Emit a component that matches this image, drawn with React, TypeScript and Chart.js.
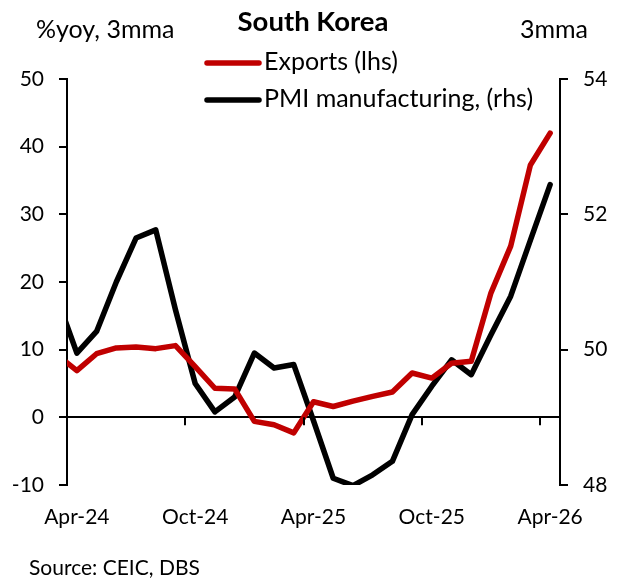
import React, { useEffect, useRef } from 'react';
import { Chart, registerables } from 'chart.js';

Chart.register(...registerables);

const FONT = 'Lato';

const months = [
  'Mar-24', 'Apr-24', 'May-24', 'Jun-24', 'Jul-24', 'Aug-24', 'Sep-24', 'Oct-24', 'Nov-24', 'Dec-24',
  'Jan-25', 'Feb-25', 'Mar-25', 'Apr-25', 'May-25', 'Jun-25', 'Jul-25', 'Aug-25', 'Sep-25', 'Oct-25',
  'Nov-25', 'Dec-25', 'Jan-26', 'Feb-26', 'Mar-26', 'Apr-26',
];
const exportsYoY = [
  9.2, 6.9, 9.4, 10.25, 10.4, 10.15, 10.6, 7.5, 4.3, 4.2,
  -0.6, -1.1, -2.3, 2.3, 1.6, 2.4, 3.1, 3.75, 6.55, 5.8,
  8.0, 8.3, 18.4, 25.3, 37.3, 42.0,
];
const pmiMfg = [
  50.76, 49.95, 50.27, 51.0, 51.65, 51.77, 50.59, 49.5, 49.08, 49.3,
  49.95, 49.73, 49.78, 48.95, 48.1, 47.99, 48.15, 48.35, 49.04, 49.46,
  49.85, 49.63, 50.22, 50.79, 51.62, 52.44,
];
const xTickLabels = ['Apr-24', 'Oct-24', 'Apr-25', 'Oct-25', 'Apr-26'];
const leftAxis = { min: -10, max: 50, step: 10 };
const rightAxis = { min: 48, max: 54, step: 2 };

const TITLE = 'South Korea';
const LEFT_TITLE = '%yoy, 3mma';
const RIGHT_TITLE = '3mma';
const SOURCE = 'Source: CEIC, DBS';
const SERIES_NAMES = ['Exports (lhs)', 'PMI manufacturing, (rhs)'];
const COLORS = ['#C00000', '#000000'];

const TICK_SIZE = 21;
const LABEL_SIZE = 25;

const textPlugin = {
  id: 'textAndMarks',
  afterDraw(chart: any) {
    const { ctx } = chart;
    const x = chart.scales.x;
    const y = chart.scales.y;
    ctx.save();
    // x tick marks on the zero line, at month boundaries
    const y0 = y.getPixelForValue(0);
    ctx.strokeStyle = '#000';
    ctx.lineWidth = 2;
    xTickLabels.forEach((l) => {
      const px = Math.round(x.getPixelForValue(months.indexOf(l) - 0.5));
      ctx.beginPath();
      ctx.moveTo(px, y0);
      ctx.lineTo(px, y0 + 8);
      ctx.stroke();
    });

    ctx.fillStyle = '#000';
    ctx.textBaseline = 'middle';
    ctx.textAlign = 'center';
    ctx.font = `bold 27.5px ${FONT}`;
    ctx.fillText(TITLE, 313, 22);

    ctx.font = `${LABEL_SIZE}px ${FONT}`;
    ctx.textAlign = 'left';
    ctx.fillText(LEFT_TITLE, 36, 30);
    ctx.textAlign = 'right';
    ctx.fillText(RIGHT_TITLE, 588, 30);

    // legend
    ctx.textAlign = 'left';
    const legendY = [63, 100];
    chart.data.datasets.forEach((ds: any, i: number) => {
      ctx.strokeStyle = ds.borderColor;
      ctx.lineWidth = 5.5;
      ctx.lineCap = 'round';
      ctx.beginPath();
      ctx.moveTo(207, legendY[i]);
      ctx.lineTo(259, legendY[i]);
      ctx.stroke();
      ctx.fillText(ds.label, 264, legendY[i] - 1);
    });

    ctx.font = `${TICK_SIZE}px ${FONT}`;
    ctx.textAlign = 'left';
    ctx.fillText(SOURCE, 29, 568);
    ctx.restore();
  },
};

export default function App() {
  const ref = useRef<HTMLCanvasElement>(null);
  useEffect(() => {
    if (!ref.current) return;
    Chart.defaults.font.family = FONT;
    Chart.defaults.color = '#000';
    const chart = new Chart(ref.current, {
      type: 'line',
      data: {
        datasets: [
          {
            label: SERIES_NAMES[0],
            data: months.map((_, i) => ({ x: i, y: exportsYoY[i] })),
            borderColor: COLORS[0],
            borderWidth: 5.5,
            pointRadius: 0,
            borderJoinStyle: 'round',
            borderCapStyle: 'round',
            tension: 0,
            yAxisID: 'y',
          },
          {
            label: SERIES_NAMES[1],
            data: months.map((_, i) => ({ x: i, y: pmiMfg[i] })),
            borderColor: COLORS[1],
            borderWidth: 5.5,
            pointRadius: 0,
            borderJoinStyle: 'round',
            borderCapStyle: 'round',
            tension: 0,
            yAxisID: 'y1',
          },
        ],
      },
      options: {
        responsive: false,
        animation: false,
        layout: { padding: { top: 79, left: 0, right: 0, bottom: 0 } },
        plugins: { legend: { display: false }, tooltip: { enabled: false }, title: { display: false } },
        scales: {
          x: {
            type: 'linear',
            min: months.indexOf(xTickLabels[0]) - 0.5,
            max: months.length - 0.5,
            afterBuildTicks: (s: any) => {
              s.ticks = xTickLabels.map((l) => ({ value: months.indexOf(l) }));
            },
            afterFit: (s: any) => {
              s.height = 95;
            },
            grid: { display: false, drawTicks: false },
            border: { display: false },
            ticks: {
              autoSkip: false,
              maxRotation: 0,
              padding: 20,
              font: { size: TICK_SIZE },
              callback: (v: any) => months[v] ?? '',
            },
          },
          y: {
            position: 'left',
            min: leftAxis.min,
            max: leftAxis.max,
            afterFit: (s: any) => {
              s.width = 67;
            },
            ticks: { stepSize: leftAxis.step, padding: 15, font: { size: TICK_SIZE } },
            grid: {
              drawOnChartArea: true,
              color: (c: any) => (c.tick && c.tick.value === 0 ? '#000' : 'rgba(0,0,0,0)'),
              tickColor: '#000',
              tickLength: 8,
              lineWidth: 2,
            },
            border: { display: true, color: '#000', width: 2 },
          },
          y1: {
            position: 'right',
            min: rightAxis.min,
            max: rightAxis.max,
            afterFit: (s: any) => {
              s.width = 62;
            },
            ticks: { stepSize: rightAxis.step, padding: 15, font: { size: TICK_SIZE } },
            grid: { drawOnChartArea: false, tickColor: '#000', tickLength: 8, lineWidth: 2 },
            border: { display: true, color: '#000', width: 2 },
          },
        },
      },
      plugins: [textPlugin],
    } as any);
    return () => chart.destroy();
  }, []);
  return (
    <div style={{ position: 'absolute', left: 0, top: 0, width: 622, height: 580, background: '#fff' }}>
      <canvas ref={ref} width={622} height={580} style={{ display: 'block' }} />
    </div>
  );
}
